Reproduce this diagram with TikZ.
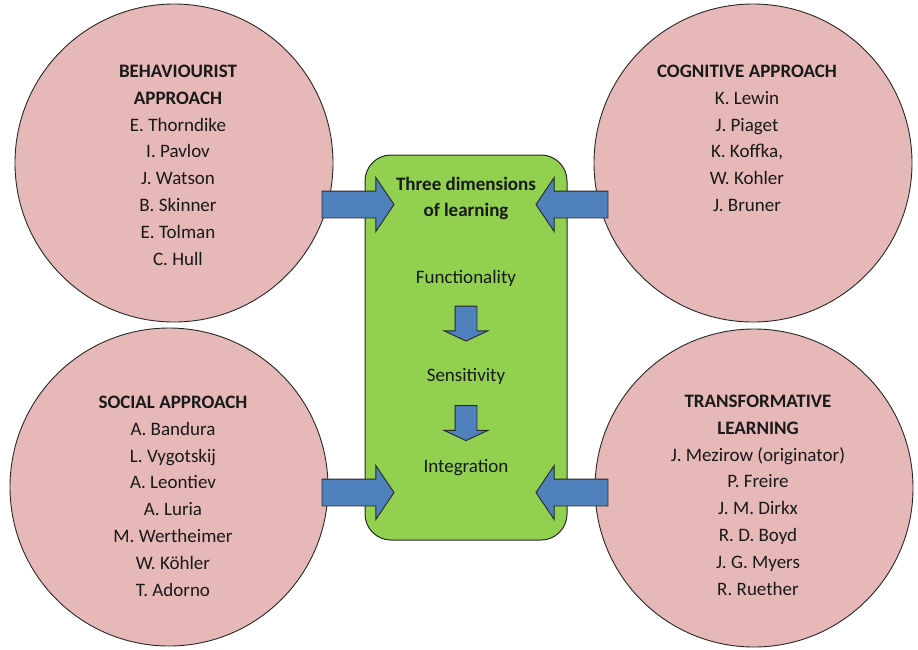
\documentclass[tikz,border=0pt]{standalone}
\usepackage{fontspec}
\setmainfont{Carlito}
\usetikzlibrary{positioning}
\usetikzlibrary{shapes.arrows,calc}
\definecolor{approachpink}{RGB}{230,184,183}
\definecolor{dimgreen}{RGB}{146,208,80}
\definecolor{flowblue}{RGB}{79,129,189}
\definecolor{rimgray}{RGB}{40,40,40}

\begin{document}
\begin{tikzpicture}[x=1pt, y=-1pt,
  every node/.style = {font=\fontsize{19pt}{26.9pt}\selectfont,
    align=center, inner sep=0pt, text=black!90},
  approach/.style = {shape=circle, draw=rimgray, line width=0.9pt,
    fill=approachpink, minimum size=318pt},
  dimbox/.style = {shape=rectangle, rounded corners=26pt, draw=rimgray,
    line width=1pt, fill=dimgreen, minimum width=202pt, minimum height=385pt},
  sidearrow/.style = {single arrow, draw=rimgray, line width=0.9pt,
    fill=flowblue, inner sep=13pt, single arrow head extend=13.5pt,
    single arrow tip angle=112, minimum height=72pt},
  downarrow/.style = {single arrow, shape border rotate=270, draw=rimgray,
    line width=0.9pt, fill=flowblue, inner sep=10.5pt,
    single arrow head extend=11pt, single arrow tip angle=130,
    minimum height=35pt, anchor=tail},
  heading/.style = {font=\fontsize{19pt}{26.5pt}\selectfont\bfseries}
  ]
  \useasboundingbox (0,0) rectangle (918,649);

  \node[approach] (behav) at (174,163) {};
  \node[approach] (cogn) at (753,163) {};
  \node[approach] (social) at (169,487) {};
  \node[approach] (transf) at (754,488) {};

  \node[below=61pt of behav.north, xshift=4pt] (behavtxt)
    {\textbf{BEHAVIOURIST}\\\textbf{APPROACH}\\E. Thorndike\\I. Pavlov\\J. Watson\\B. Skinner\\E. Tolman\\C. Hull};
  \node[below=61pt of cogn.north, xshift=-6pt] (cogntxt)
    {\textbf{COGNITIVE APPROACH}\\K. Lewin\\J. Piaget\\K. Koffka,\\W. Kohler\\J. Bruner};
  \node[below=68pt of social.north, xshift=4pt] (socialtxt)
    {\textbf{SOCIAL APPROACH}\\A. Bandura\\L. Vygotskij\\A. Leontiev\\A. Luria\\M. Wertheimer\\W. Köhler\\T. Adorno};
  \node[below=66pt of transf.north, xshift=4pt] (transftxt)
    {\textbf{TRANSFORMATIVE}\\\textbf{LEARNING}\\J. Mezirow (originator)\\P. Freire\\J. M. Dirkx\\R. D. Boyd\\J. G. Myers\\R. Ruether};

  \node[dimbox] (box) at (466,347.5) {};
  \node[heading, below=22pt of box.north] (title)
    {Three dimensions\\of learning};
  \node[below=50pt of title] (func) {Functionality};
  \node[downarrow, below=19pt of func] (step1) {};
  \node[below=27pt of step1.tip] (sens) {Sensitivity};
  \node[downarrow, below=20pt of sens] (step2) {};
  \node[below=18pt of step2.tip] (integ) {Integration};

  \node[sidearrow] (inbehav) at ($(box.north west)+(-11,50)$) {};
  \node[sidearrow, shape border rotate=180] (incogn) at ($(box.north east)+(9,50)$) {};
  \node[sidearrow] (insocial) at ($(box.south west)+(-11,-48)$) {};
  \node[sidearrow, shape border rotate=180] (intransf) at ($(box.south east)+(9,-48)$) {};
\end{tikzpicture}
\end{document}
